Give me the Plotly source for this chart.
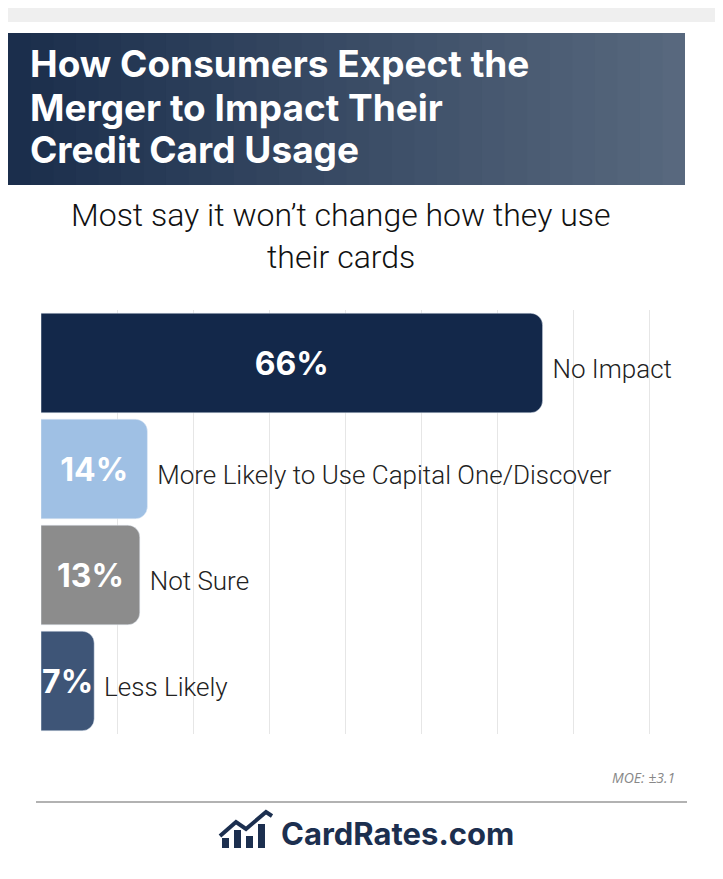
import plotly.graph_objects as go

categories = ["No Impact", "More Likely to Use Capital One/Discover", "Not Sure", "Less Likely"]
values = [66, 14, 13, 7]
colors = ["#13284a", "#9fc0e4", "#8c8c8c", "#3e5577"]
title_lines = ["How Consumers Expect the", "Merger to Impact Their", "Credit Card Usage"]

# page has an 8px body margin; figure spans the rest of the window
OFF = 8
W, H = 723 - OFF, 879 - OFF


def px(x):
    return (x - OFF) / W


def py(y):
    return 1 - (y - OFF) / H


rows = list(range(len(categories)))
fig = go.Figure()

fig.add_trace(go.Bar(
    y=rows, x=values, orientation="h",
    marker=dict(color=colors, cornerradius=12),
    width=0.94,
    text=[f"{v}%" for v in values], textposition="inside", textangle=0,
    insidetextanchor="middle", constraintext="none",
    textfont=dict(family="Inter", size=32, color="white", weight="bold"),
    hoverinfo="skip",
))

# category labels to the right of each bar (sit a little below bar centre)
fig.add_trace(go.Scatter(
    y=[r + 0.08 for r in rows], x=[v + 1.3 for v in values], mode="text",
    text=categories, textposition="middle right",
    textfont=dict(family="Roboto", size=26, color="#222", weight=300),
    hoverinfo="skip", cliponaxis=False,
))

shapes = [
    dict(type="rect", xref="paper", yref="paper", x0=0, x1=1, y0=py(22), y1=1,
         fillcolor="#efefef", line_width=0, layer="below"),
    dict(type="line", xref="paper", yref="paper", x0=px(36), x1=px(687),
         y0=py(802), y1=py(802), line=dict(color="#999", width=1.5)),
]
# banner gradient
n = 30
c0, c1 = (27, 46, 76), (88, 104, 126)
for i in range(n):
    t = i / (n - 1)
    col = tuple(int(a + (b - a) * t) for a, b in zip(c0, c1))
    x0 = 677 * i / n
    x1 = min(677 * (i + 1) / n + 1, 677)
    shapes.append(dict(type="rect", xref="paper", yref="paper", x0=x0 / W, x1=x1 / W,
                       y0=py(185), y1=py(33), fillcolor="rgb(%d,%d,%d)" % col,
                       line_width=0, layer="below"))
# logo icon
shapes.append(dict(type="path", xref="paper", yref="paper",
                   path="M %f %f L %f %f L %f %f L %f %f L %f %f" % (
                       px(220), py(836), px(236), py(822), px(246), py(829), px(266), py(812), px(272), py(816)),
                   line=dict(color="#1c2f4f", width=4)))
for bx, bt in [(222, 838), (234, 830), (246, 836), (258, 824)]:
    shapes.append(dict(type="rect", xref="paper", yref="paper", x0=px(bx), x1=px(bx + 7),
                       y0=py(848), y1=py(bt), fillcolor="#1c2f4f", line_width=0))

annotations = [
    dict(xref="paper", yref="paper", x=px(28), y=py(64 + 43 * i), xanchor="left", yanchor="middle",
         showarrow=False, text="<b>%s</b>" % s,
         font=dict(family="Inter", size=37, color="white", weight=800))
    for i, s in enumerate(title_lines)
]
annotations += [
    dict(xref="paper", yref="paper", x=px(341), y=py(215), xanchor="center", yanchor="middle",
         showarrow=False, text="Most say it won’t change how they use",
         font=dict(family="Roboto", size=32, color="#111", weight=300)),
    dict(xref="paper", yref="paper", x=px(341), y=py(257), xanchor="center", yanchor="middle",
         showarrow=False, text="their cards",
         font=dict(family="Roboto", size=32, color="#111", weight=300)),
    dict(xref="paper", yref="paper", x=px(677), y=py(777), xanchor="right", yanchor="middle",
         showarrow=False, text="<i>MOE: ±3.1</i>",
         font=dict(family="Open Sans", size=14, color="#888")),
    dict(xref="paper", yref="paper", x=px(279), y=py(833), xanchor="left", yanchor="middle",
         showarrow=False, text="<b>CardRates.com</b>",
         font=dict(family="Inter", size=31, color="#1c2f4f")),
]

fig.update_layout(
    width=W, height=H,
    margin=dict(l=0, r=0, t=0, b=0),
    paper_bgcolor="white", plot_bgcolor="white",
    showlegend=False, bargap=0.06,
    xaxis=dict(domain=[px(41), 1], range=[0, (723 - 41) / 7.6], dtick=10,
               showgrid=True, gridcolor="#e6e6e6", gridwidth=1,
               showticklabels=False, zeroline=False, fixedrange=True),
    yaxis=dict(domain=[py(734), py(310)], range=[3.5, -0.5],
               showticklabels=False, showgrid=False, zeroline=False, fixedrange=True),
    uniformtext=dict(minsize=30, mode="show"),
    shapes=shapes,
    annotations=annotations,
)

fig.write_html("out.html")
